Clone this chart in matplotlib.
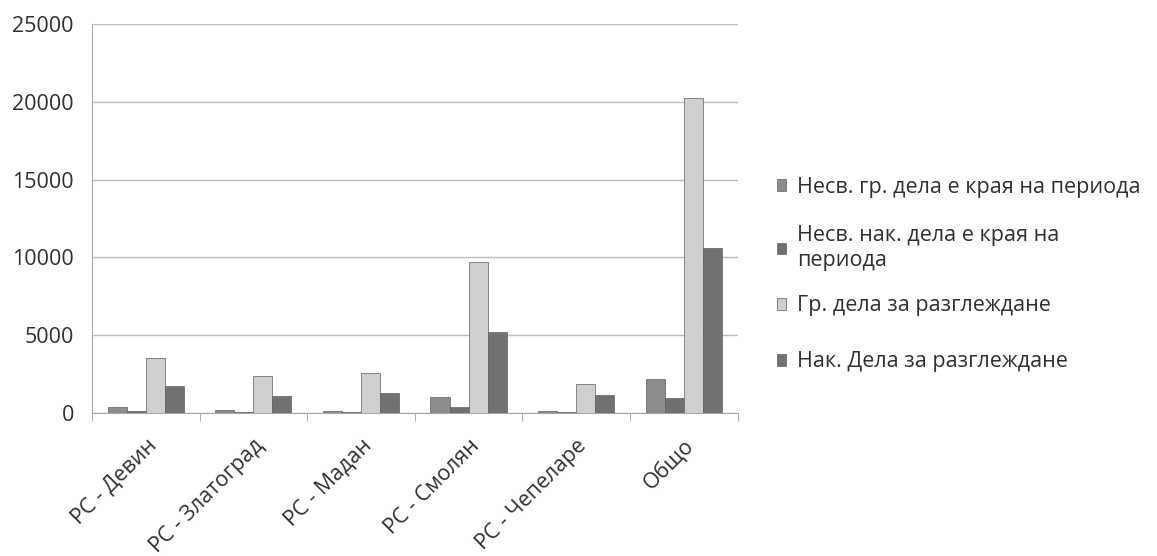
import matplotlib
matplotlib.use("Agg")
import matplotlib.pyplot as plt
import matplotlib.transforms as mtransforms
import numpy as np

plt.rcParams['font.family'] = ['Open Sans', 'DejaVu Sans']

categories = ["PC - Девин", "PC - Златоград", "PC - Мадан", "PC - Смолян", "PC - Чепеларе", "Общо"]
series_names = ["Несв. гр. дела е края на периода",
                "Несв. нак. дела е края на\nпериода",
                "Гр. дела за разглеждане",
                "Нак. Дела за разглеждане"]
nesv_gr = [390, 230, 140, 1040, 130, 2180]
nesv_nak = [150, 60, 60, 390, 60, 960]
gr_dela = [3540, 2380, 2570, 9700, 1860, 20250]
nak_dela = [1740, 1100, 1290, 5200, 1160, 10600]
yticks = [0, 5000, 10000, 15000, 20000, 25000]

colors = ["#8c8c8c", "#6f6f6f", "#cfcfcf", "#727272"]
data = [nesv_gr, nesv_nak, gr_dela, nak_dela]

fig = plt.figure(figsize=(11.57, 5.56), dpi=100)
ax = fig.add_axes([0.0795, 0.257, 0.558, 0.7])

x = np.arange(len(categories))
w = 0.177
containers = []
for i, (vals, c, name) in enumerate(zip(data, colors, series_names)):
    bc = ax.bar(x + (i - 1.5) * w, vals, width=w, color=c, edgecolor="#606060",
                linewidth=0.5, label=name, zorder=3)
    containers.append(bc)

ax.set_xlim(-0.5, len(categories) - 0.5)
ax.set_ylim(0, 25000)
ax.set_yticks(yticks)
ax.set_yticklabels([str(v) for v in yticks], fontsize=15.5, color="#303030")
ax.grid(axis='y', color="#bdbdbd", linewidth=1, zorder=0)
ax.tick_params(axis='y', length=0, pad=13)

ax.set_xticks(x)
ax.set_xticklabels(categories, rotation=45, ha='right', rotation_mode='anchor',
                   fontsize=15.5, color="#303030")
ax.tick_params(axis='x', length=0, pad=16)
ax.set_xticks(np.arange(-0.5, len(categories) + 0.5, 1), minor=True)
ax.tick_params(axis='x', which='minor', length=6, color="#a0a0a0", direction='out')

for s in ['top', 'right']:
    ax.spines[s].set_visible(False)
ax.spines['left'].set_color("#a8a8a8")
ax.spines['bottom'].set_color("#a8a8a8")

# legend entries placed individually (Excel-like uneven spacing)
legend_y_px = [187, 248, 306, 362]
H = 556
for bc, name, ypx in zip(containers, series_names, legend_y_px):
    fig.legend([bc], [name], loc='center left',
               bbox_to_anchor=(0.662, 1 - ypx / H), frameon=False,
               fontsize=15.5, handlelength=0.45, handleheight=0.45,
               handletextpad=0.5, labelcolor="#303030", borderpad=0)

fig.savefig("out.png", dpi=100)
